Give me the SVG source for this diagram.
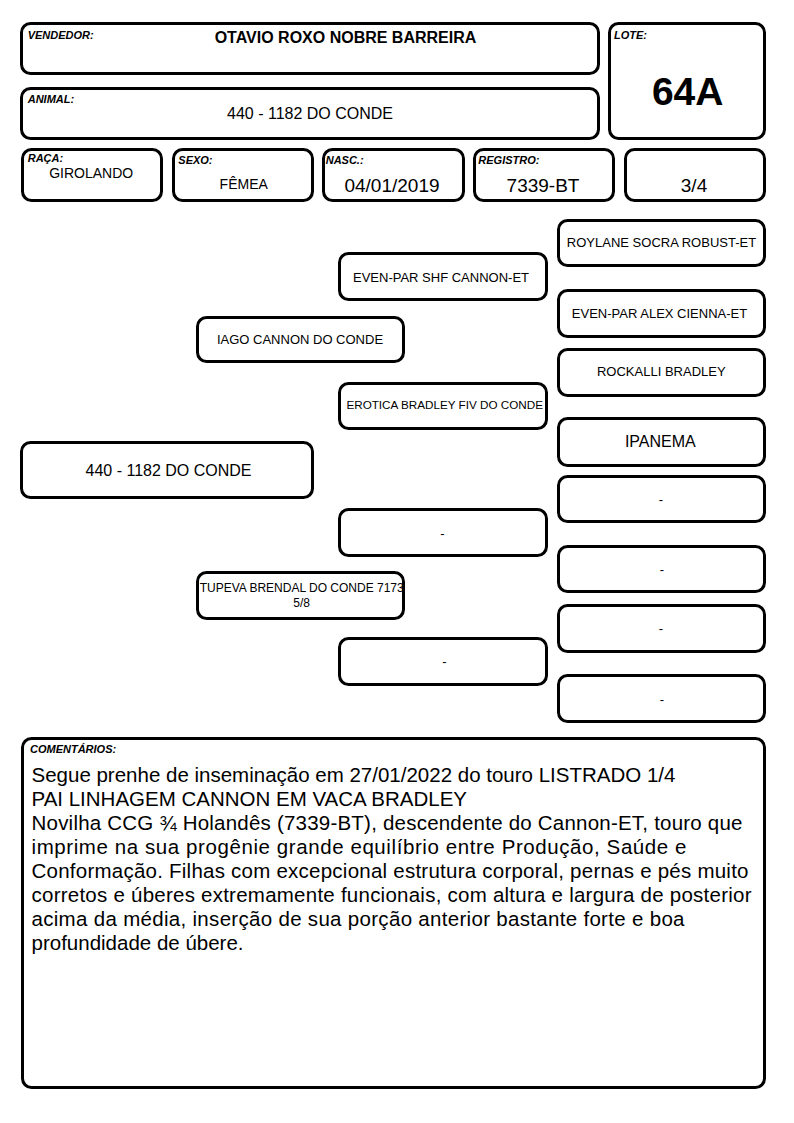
<svg xmlns="http://www.w3.org/2000/svg" width="794" height="1123" viewBox="0 0 794 1123">
<style>
.b{fill:#fff;stroke:#000;stroke-width:3}
text{font-family:"Liberation Sans",Arial,sans-serif;fill:#000}
.lbl{font-size:11px;font-weight:bold;font-style:italic}
.c{text-anchor:middle}
.p{font-size:13px}
.d{font-size:13px;text-anchor:middle}
.cm{font-size:20.5px}
</style>
<rect width="794" height="1123" fill="#fff"/>
<g id="connectors"/>
<g id="vendedor">
<rect class="b" x="21.5" y="23.5" width="577" height="50" rx="9"/>
<text class="lbl" x="27.7" y="38.7">VENDEDOR:</text>
<text class="c" x="345.5" y="43" font-size="16" font-weight="bold">OTAVIO ROXO NOBRE BARREIRA</text>
</g>
<g id="animal">
<rect class="b" x="21.5" y="88.5" width="577" height="50" rx="9"/>
<text class="lbl" x="27.7" y="103">ANIMAL:</text>
<text class="c" x="310" y="118.7" font-size="16">440 - 1182 DO CONDE</text>
</g>
<g id="lote">
<rect class="b" x="609.5" y="23.5" width="155" height="115" rx="9"/>
<text class="lbl" x="614" y="38.7">LOTE:</text>
<text class="c" x="687.7" y="105" font-size="39" font-weight="bold">64A</text>
</g>
<g id="raca">
<rect class="b" x="22.5" y="149.5" width="139" height="51" rx="9"/>
<text class="lbl" x="27.7" y="162">RAÇA:</text>
<text class="c" x="91.2" y="177.7" font-size="14">GIROLANDO</text>
</g>
<g id="sexo">
<rect class="b" x="173.5" y="149.5" width="139" height="51" rx="9"/>
<text class="lbl" x="178.3" y="164">SEXO:</text>
<text class="c" x="243.7" y="189" font-size="14">FÊMEA</text>
</g>
<g id="nasc">
<rect class="b" x="323.5" y="149.5" width="140" height="51" rx="9"/>
<text class="lbl" x="325.7" y="164">NASC.:</text>
<text class="c" x="392" y="192" font-size="19">04/01/2019</text>
</g>
<g id="registro">
<rect class="b" x="474.5" y="149.5" width="139" height="51" rx="9"/>
<text class="lbl" x="478.3" y="164">REGISTRO:</text>
<text class="c" x="543" y="192" font-size="19">7339-BT</text>
</g>
<g id="grau">
<rect class="b" x="625.5" y="149.5" width="139" height="51" rx="9"/>
<text class="c" x="694" y="192" font-size="19">3/4</text>
</g>
<g id="main">
<rect class="b" x="21.5" y="442.5" width="291" height="55" rx="9"/>
<text class="c" x="168.5" y="476" font-size="16">440 - 1182 DO CONDE</text>
</g>
<g id="sire">
<rect class="b" x="197.5" y="317.5" width="206" height="44" rx="9"/>
<text class="p c" x="300" y="344">IAGO CANNON DO CONDE</text>
</g>
<g id="dam">
<rect class="b" x="197.5" y="572.5" width="206" height="46" rx="9"/>
<text class="c" x="301.7" y="592" font-size="12">TUPEVA BRENDAL DO CONDE 7173</text>
<text class="c" x="301.7" y="606.7" font-size="12">5/8</text>
</g>
<g id="sire-sire">
<rect class="b" x="339.5" y="253.5" width="207" height="46" rx="9"/>
<text class="p c" x="441" y="281.7">EVEN-PAR SHF CANNON-ET</text>
</g>
<g id="sire-dam">
<rect class="b" x="339.5" y="383.5" width="207" height="45" rx="9"/>
<text class="c" x="444.7" y="409.3" font-size="11.7">EROTICA BRADLEY FIV DO CONDE</text>
</g>
<g id="dam-sire">
<rect class="b" x="339.5" y="509.5" width="207" height="46" rx="9"/>
<text class="d" x="442.3" y="537.6">-</text>
</g>
<g id="dam-dam">
<rect class="b" x="339.5" y="638.5" width="207" height="46" rx="9"/>
<text class="d" x="444.3" y="666">-</text>
</g>
<g id="ss-sire">
<rect class="b" x="558.5" y="220.5" width="206" height="45" rx="9"/>
<text class="p c" x="661.5" y="247">ROYLANE SOCRA ROBUST-ET</text>
</g>
<g id="ss-dam">
<rect class="b" x="558.5" y="290.5" width="206" height="46" rx="9"/>
<text class="p c" x="659.5" y="318.3">EVEN-PAR ALEX CIENNA-ET</text>
</g>
<g id="sd-sire">
<rect class="b" x="558.5" y="349.5" width="206" height="46" rx="9"/>
<text class="p c" x="661.3" y="375.7">ROCKALLI BRADLEY</text>
</g>
<g id="sd-dam">
<rect class="b" x="558.5" y="418.5" width="206" height="47" rx="9"/>
<text class="c" x="660.3" y="447" font-size="16">IPANEMA</text>
</g>
<g id="ds-sire">
<rect class="b" x="558.5" y="476.5" width="206" height="45" rx="9"/>
<text class="d" x="661" y="504.3">-</text>
</g>
<g id="ds-dam">
<rect class="b" x="558.5" y="546.5" width="206" height="45" rx="9"/>
<text class="d" x="662" y="573.6">-</text>
</g>
<g id="dd-sire">
<rect class="b" x="558.5" y="605.5" width="206" height="46" rx="9"/>
<text class="d" x="661" y="632.6">-</text>
</g>
<g id="dd-dam">
<rect class="b" x="558.5" y="675.5" width="206" height="46" rx="9"/>
<text class="d" x="662" y="703.6">-</text>
</g>
<g id="comentarios">
<rect class="b" x="22.5" y="738.5" width="742" height="349" rx="9"/>
<text class="lbl" x="30" y="753">COMENTÁRIOS:</text>
<text class="cm" x="31.5" y="781.5">Segue prenhe de inseminação em 27/01/2022 do touro LISTRADO 1/4</text>
<text class="cm" x="31.5" y="805.5">PAI LINHAGEM CANNON EM VACA BRADLEY</text>
<text class="cm" x="31.5" y="829.5" textLength="711">Novilha CCG ¾ Holandês (7339-BT), descendente do Cannon-ET, touro que</text>
<text class="cm" x="31.5" y="853.5" textLength="655">imprime na sua progênie grande equilíbrio entre Produção, Saúde e</text>
<text class="cm" x="31.5" y="877.5" textLength="717">Conformação. Filhas com excepcional estrutura corporal, pernas e pés muito</text>
<text class="cm" x="31.5" y="901.5" textLength="720">corretos e úberes extremamente funcionais, com altura e largura de posterior</text>
<text class="cm" x="31.5" y="925.5" textLength="653">acima da média, inserção de sua porção anterior bastante forte e boa</text>
<text class="cm" x="31.5" y="949.5">profundidade de úbere.</text>
</g>
</svg>
